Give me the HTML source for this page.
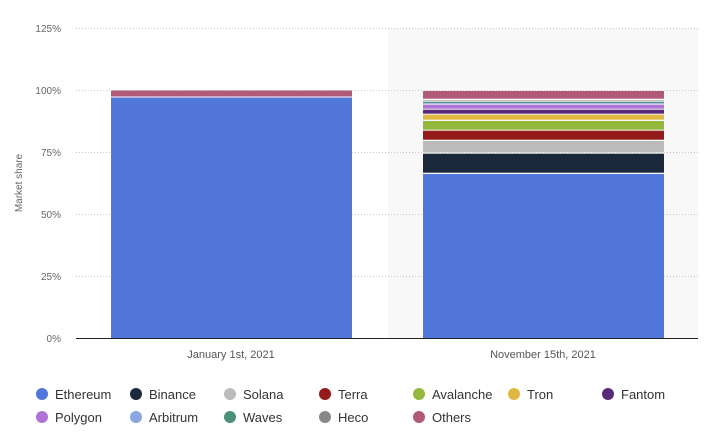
<!DOCTYPE html>
<html><head><meta charset="utf-8"><style>
body{margin:0;background:#fff;}
svg{display:block;font-family:"Liberation Sans",sans-serif;}
</style></head><body>
<svg width="713" height="438" viewBox="0 0 713 438">
<rect x="388" y="28" width="310" height="310" fill="#f8f8f8"/>
<g stroke="#c8c8c8" stroke-dasharray="1,2" stroke-width="1">
<line x1="76" y1="28.5" x2="698" y2="28.5"/>
<line x1="76" y1="90.5" x2="698" y2="90.5"/>
<line x1="76" y1="152.5" x2="698" y2="152.5"/>
<line x1="76" y1="214.5" x2="698" y2="214.5"/>
<line x1="76" y1="276.5" x2="698" y2="276.5"/>
</g>
<g font-size="10" fill="#666" text-anchor="end">
<text x="61" y="32">125%</text>
<text x="61" y="94">100%</text>
<text x="61" y="156">75%</text>
<text x="61" y="218">50%</text>
<text x="61" y="280">25%</text>
<text x="61" y="342">0%</text>
</g>
<text transform="translate(22,183) rotate(-90)" font-size="10" fill="#666" text-anchor="middle">Market share</text>
<!-- bar 1 -->
<rect x="111" y="90.5" width="241" height="6" fill="#b05a78"/>
<rect x="111" y="97.5" width="241" height="240.5" fill="#5077d9"/>
<!-- bar 2 -->
<rect x="423" y="91" width="241" height="7.7" fill="#b05a78"/>
<rect x="423" y="100.5" width="241" height="0.8" fill="#888"/>
<rect x="423" y="102" width="241" height="1" fill="#4a8f7a"/>
<rect x="423" y="103.3" width="241" height="0.8" fill="#8aa6e3"/>
<rect x="423" y="104.7" width="241" height="4" fill="#b074d6"/>
<rect x="423" y="109.7" width="241" height="4" fill="#5a2a7a"/>
<rect x="423" y="114.7" width="241" height="5" fill="#e0b840"/>
<rect x="423" y="121" width="241" height="8.7" fill="#94b93c"/>
<rect x="423" y="130.7" width="241" height="9" fill="#951b1b"/>
<rect x="423" y="141" width="241" height="11.3" fill="#bcbcbc"/>
<rect x="423" y="153.7" width="241" height="19" fill="#1b283c"/>
<rect x="423" y="174" width="241" height="164" fill="#5077d9"/>
<line x1="76" y1="338.5" x2="698" y2="338.5" stroke="#222" stroke-width="1"/>
<g font-size="11" fill="#555" text-anchor="middle">
<text x="231" y="358">January 1st, 2021</text>
<text x="543" y="358">November 15th, 2021</text>
</g>
<g font-size="13" fill="#333">
<circle cx="42" cy="394" r="6" fill="#5077d9"/><text x="55" y="399">Ethereum</text>
<circle cx="136" cy="394" r="6" fill="#1b283c"/><text x="149" y="399">Binance</text>
<circle cx="230" cy="394" r="6" fill="#bcbcbc"/><text x="243" y="399">Solana</text>
<circle cx="325" cy="394" r="6" fill="#951b1b"/><text x="338" y="399">Terra</text>
<circle cx="419" cy="394" r="6" fill="#94b93c"/><text x="432" y="399">Avalanche</text>
<circle cx="514" cy="394" r="6" fill="#e0b840"/><text x="527" y="399">Tron</text>
<circle cx="608" cy="394" r="6" fill="#5a2a7a"/><text x="621" y="399">Fantom</text>
<circle cx="42" cy="417" r="6" fill="#b074d6"/><text x="55" y="422">Polygon</text>
<circle cx="136" cy="417" r="6" fill="#8aa6e3"/><text x="149" y="422">Arbitrum</text>
<circle cx="230" cy="417" r="6" fill="#4a8f7a"/><text x="243" y="422">Waves</text>
<circle cx="325" cy="417" r="6" fill="#888"/><text x="338" y="422">Heco</text>
<circle cx="419" cy="417" r="6" fill="#b05a78"/><text x="432" y="422">Others</text>
</g>
</svg>
</body></html>
